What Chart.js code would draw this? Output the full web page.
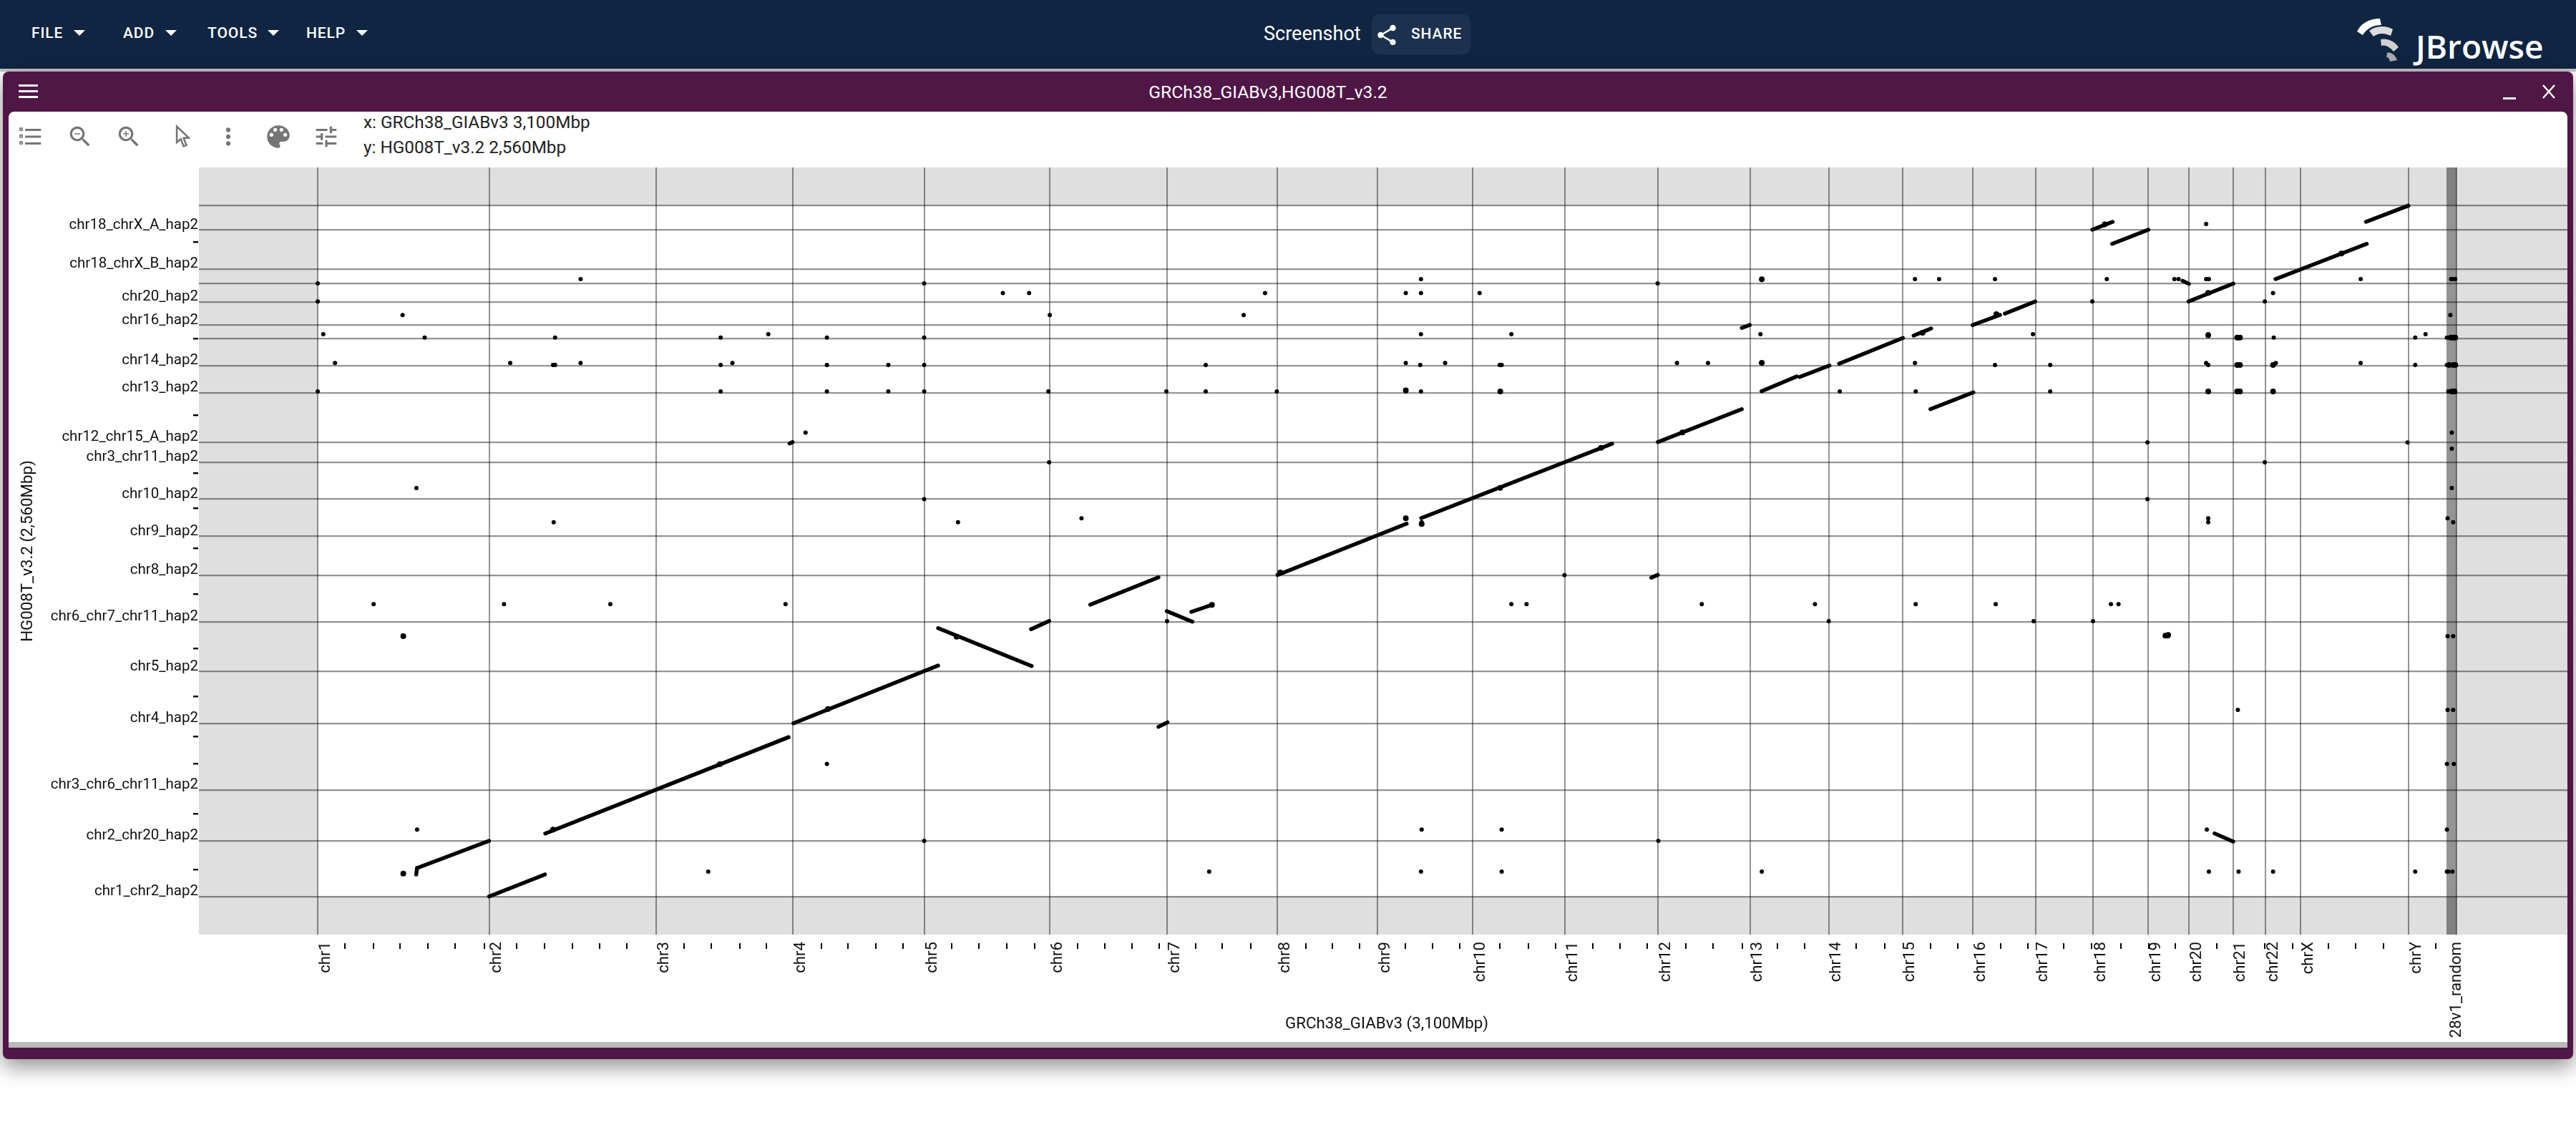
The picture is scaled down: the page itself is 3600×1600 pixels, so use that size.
<!DOCTYPE html>
<html>
<head>
<meta charset="utf-8">
<title>JBrowse dotplot</title>
<script src="https://cdn.jsdelivr.net/npm/chart.js@4/dist/chart.umd.min.js"></script>
<style>
html, body { margin: 0; padding: 0; background: #fff; }
body { width: 3600px; height: 1600px; position: relative; overflow: hidden; font-family: Roboto, sans-serif; }
.abs { position: absolute; white-space: nowrap; }
#topbar { left: 0; top: 0; width: 3600px; height: 96px; background: #0f2542; }
#topline { left: 0; top: 96px; width: 3600px; height: 4px; background: #c4c4c4; }
#panel { left: 4px; top: 100px; width: 3592px; height: 1380px; background: #501646; border-radius: 8px; box-shadow: 0 10px 30px rgba(0,0,0,0.45); }
#inner { left: 12px; top: 156px; width: 3576px; height: 1300px; background: #fff; border-radius: 8px 8px 0 0; }
#strip { left: 12px; top: 1456px; width: 3576px; height: 8px; background: #b9b9b9; }
#chartWrap { left: 0; top: 0; width: 3588px; height: 1450px; overflow: hidden; }
.menu { top: 34px; color: #fff; font-size: 21px; font-weight: 500; letter-spacing: 0.9px; line-height: 24px; }
.tri { top: 42px; width: 0; height: 0; border-left: 8px solid transparent; border-right: 8px solid transparent; border-top: 8px solid #fff; }
.info { left: 508px; font-size: 24.3px; color: #222; line-height: 28px; }
svg.icon { position: absolute; fill: #757575; }
</style>
</head>
<body>
<div class="abs" id="topbar"></div>
<div class="abs" id="topline"></div>
<div class="abs" id="panel"></div>
<div class="abs" id="inner"></div>
<div class="abs" id="strip"></div>

<div class="abs menu" style="left:44px">FILE</div><div class="abs tri" style="left:103px"></div>
<div class="abs menu" style="left:172px">ADD</div><div class="abs tri" style="left:231px"></div>
<div class="abs menu" style="left:290px">TOOLS</div><div class="abs tri" style="left:374px"></div>
<div class="abs menu" style="left:428px">HELP</div><div class="abs tri" style="left:498px"></div>

<div class="abs" style="left:1766px;top:31px;color:#fff;font-size:27px;line-height:32px">Screenshot</div>
<div class="abs" style="left:1917px;top:20px;width:138px;height:56px;border-radius:10px;background:#1c3150"></div>
<svg class="icon" style="left:1921px;top:32px;fill:#fff" width="34" height="34" viewBox="0 0 24 24"><path d="M18 16.08c-.76 0-1.44.3-1.96.77L8.91 12.7c.05-.23.09-.46.09-.7s-.04-.47-.09-.7l7.05-4.11c.54.5 1.25.81 2.04.81 1.66 0 3-1.34 3-3s-1.34-3-3-3-3 1.34-3 3c0 .24.04.47.09.7L8.04 9.81C7.5 9.31 6.79 9 6 9c-1.66 0-3 1.34-3 3s1.34 3 3 3c.79 0 1.5-.31 2.04-.81l7.12 4.16c-.05.21-.08.43-.08.65 0 1.61 1.31 2.92 2.92 2.92s2.92-1.31 2.92-2.92-1.31-2.92-2.92-2.92z"/></svg>
<div class="abs menu" style="left:1972px;top:35px">SHARE</div>

<svg class="abs" style="left:3290px;top:24px" width="72" height="64" viewBox="0 0 72 64">
<path d="M4 20 C10 8 22 2 36 2 L38 11 C28 11 18 15 12 25 Z" fill="#fff"/>
<path d="M21 19 C30 12 44 11 54 17 L51 26 C42 22 34 22 27 27 Z" fill="#dcdcdc"/>
<path d="M37 31 C46 29 56 33 62 42 L55 48 C50 42 44 38 38 40 Z" fill="#cfcfcf"/>
<path d="M46 50 C52 48 58 54 60 60 L50 62 C49 58 48 56 45 56 Z" fill="#a9a9a9"/>
</svg>
<div class="abs" style="left:3376px;top:36px;color:#fff;font-family:'Open Sans';font-weight:600;font-size:46px;line-height:56px">JBrowse</div>

<svg class="abs" style="left:26px;top:118px" width="27" height="19"><rect width="27" height="3" y="0" fill="#fff"/><rect width="27" height="3" y="8" fill="#fff"/><rect width="27" height="3" y="16" fill="#fff"/></svg>
<div class="abs" style="left:0;width:3544px;text-align:center;top:116px;color:#fff;font-size:24.6px;line-height:26px">GRCh38_GIABv3,HG008T_v3.2</div>
<div class="abs" style="left:3498px;top:136px;width:18px;height:3px;background:#fff"></div>
<svg class="abs" style="left:3552px;top:118px" width="20" height="20"><path d="M2 1 L18 19 M18 1 L2 19" stroke="#fff" stroke-width="2.4"/></svg>

<svg class="icon" style="left:24px;top:172px" width="38" height="38" viewBox="0 0 24 24"><path d="M7 5h14v2H7zM7 11h14v2H7zM7 17h14v2H7z"/><path d="M2.5 4.5h2v2h-2zM2.5 10.5h2v2h-2zM2.5 16.5h2v2h-2z" fill="none" stroke="#757575" stroke-width="1"/></svg>
<svg class="icon" style="left:93px;top:172px" width="38" height="38" viewBox="0 0 24 24"><path d="M15.5 14h-.79l-.28-.27C15.41 12.59 16 11.11 16 9.5 16 5.91 13.09 3 9.5 3S3 5.91 3 9.5 5.91 16 9.5 16c1.61 0 3.09-.59 4.23-1.57l.27.28v.79l5 4.99L20.49 19l-4.99-5zm-6 0C7.01 14 5 11.99 5 9.5S7.01 5 9.5 5 14 7.01 14 9.5 11.99 14 9.5 14zM7 9h5v1H7z"/></svg>
<svg class="icon" style="left:161px;top:172px" width="38" height="38" viewBox="0 0 24 24"><path d="M15.5 14h-.79l-.28-.27C15.41 12.59 16 11.11 16 9.5 16 5.91 13.09 3 9.5 3S3 5.91 3 9.5 5.91 16 9.5 16c1.61 0 3.09-.59 4.23-1.57l.27.28v.79l5 4.99L20.49 19l-4.99-5zm-6 0C7.01 14 5 11.99 5 9.5S7.01 5 9.5 5 14 7.01 14 9.5 11.99 14 9.5 14z"/><path d="M12 10h-2v2H9v-2H7V9h2V7h1v2h2v1z"/></svg>
<svg class="icon" style="left:236px;top:172px" width="38" height="38" viewBox="0 0 24 24"><path d="M7 3 L7 17 L10.5 14 L13 20.5 L15.5 19.5 L13 13.2 L17.5 13 Z" fill="none" stroke="#757575" stroke-width="1.6"/></svg>
<svg class="icon" style="left:300px;top:172px" width="38" height="38" viewBox="0 0 24 24"><path d="M12 8c1.1 0 2-.9 2-2s-.9-2-2-2-2 .9-2 2 .9 2 2 2zm0 2c-1.1 0-2 .9-2 2s.9 2 2 2 2-.9 2-2-.9-2-2-2zm0 6c-1.1 0-2 .9-2 2s.9 2 2 2 2-.9 2-2-.9-2-2-2z"/></svg>
<svg class="icon" style="left:368px;top:170px" width="42" height="42" viewBox="0 0 24 24"><path d="M12 3c-4.97 0-9 4.03-9 9s4.03 9 9 9c.83 0 1.5-.67 1.5-1.5 0-.39-.15-.74-.39-1.01-.23-.26-.38-.61-.38-.99 0-.83.67-1.5 1.5-1.5H16c2.76 0 5-2.24 5-5 0-4.42-4.03-8-9-8zm-5.5 9c-.83 0-1.5-.67-1.5-1.5S5.67 9 6.5 9 8 9.67 8 10.5 7.33 12 6.5 12zm3-4C8.67 8 8 7.33 8 6.5S8.67 5 9.5 5s1.5.67 1.5 1.5S10.33 8 9.5 8zm5 0c-.83 0-1.5-.67-1.5-1.5S13.67 5 14.5 5s1.5.67 1.5 1.5S15.33 8 14.5 8zm3 4c-.83 0-1.5-.67-1.5-1.5S16.67 9 17.5 9s1.5.67 1.5 1.5-.67 1.5-1.5 1.5z"/></svg>
<svg class="icon" style="left:437px;top:172px" width="38" height="38" viewBox="0 0 24 24"><path d="M3 17v2h6v-2H3zM3 5v2h10V5H3zm10 16v-2h8v-2h-8v-2h-2v6h2zM7 9v2H3v2h4v2h2V9H7zm14 4v-2H11v2h10zm-6-4h2V7h4V5h-4V3h-2v6z"/></svg>
<div class="abs info" style="top:157px">x: GRCh38_GIABv3 3,100Mbp</div>
<div class="abs info" style="top:192px">y: HG008T_v3.2 2,560Mbp</div>

<div class="abs" id="chartWrap"><canvas id="Chart" width="3602" height="1450"></canvas></div>

<script>
// chromosome starts on the reference axis, Mbp
var xChrStarts = [0, 248.5, 491, 688.6, 879.5, 1061, 1231, 1391, 1536, 1674, 1808, 1942.5, 2076, 2190, 2297, 2399, 2490, 2573, 2653, 2712, 2776, 2823, 2874, 3030.5, 3088.7];
var xChrNames = ["chr1", "chr2", "chr3", "chr4", "chr5", "chr6", "chr7", "chr8", "chr9", "chr10", "chr11", "chr12", "chr13", "chr14", "chr15", "chr16", "chr17", "chr18", "chr19", "chr20", "chr21", "chr22", "chrX", "chrY", "chrUn_KI270728v1_random"];
// small unplaced contigs at the end of the reference, no labels drawn for them
var xExtraLines = [3086.5, 3091, 3093, 3095, 3097, 3099, 3100];
var xMinorTicks = [39.4, 80.9, 119.3, 159.8, 199.2, 241.2, 287.9, 329.1, 369.1, 408.5, 447.9, 530.9, 570.3, 611.8, 650.2, 729.7, 768.6, 808.7, 848.4, 919, 958.4, 999, 1039.5, 1101, 1141, 1180, 1219.6, 1272, 1310.4, 1352.4, 1431.7, 1470.9, 1509.9, 1576.4, 1616, 1655, 1713.4, 1754.5, 1794, 1848, 1887, 1927, 1982.7, 2022, 2064.4, 2115.7, 2154.8, 2230.1, 2271.2, 2338, 2377, 2439.6, 2478.6, 2530.9, 2570.6, 2613.4, 2653.8, 2692.7, 2752.3, 2822, 2862, 2914.3, 2953.3, 2993.8, 3070];

// contig starts on the assembly axis, Mbp. Empty names were hidden by JBrowse
var yContigStarts = [0, 206, 395, 641.5, 833, 1017, 1190, 1334, 1472, 1608, 1682, 1865, 1966, 2067, 2116, 2203, 2270, 2324, 2468.5, 2560];
var yContigNames = ["chr1_chr2_hap2", "chr2_chr20_hap2", "chr3_chr6_chr11_hap2", "chr4_hap2", "chr5_hap2", "chr6_chr7_chr11_hap2", "chr8_hap2", "chr9_hap2", "chr10_hap2", "chr3_chr11_hap2", "chr12_chr15_A_hap2", "chr13_hap2", "chr14_hap2", "", "chr16_hap2", "chr20_hap2", "", "chr18_chrX_B_hap2", "chr18_chrX_A_hap2", ""];
var yMinorTicks = [100, 306, 492, 593, 741, 919, 1121, 1289, 1439, 1569, 1783, 2067, 2423.5];

// alignments: start and end on both axes, Mbp
var segX = [[248.3, 329.3], [142.7, 144], [144, 248.3], [329.8, 682.4], [683.8, 688.3], [689.4, 899.2], [899.2, 1034.8], [1033.8, 1060.2], [1119.6, 1218.5], [1218.5, 1231.7], [1230.6, 1267.7], [1266.1, 1296.8], [1391, 1578.3], [1599.4, 1876.1], [1932.9, 1942.3], [1942.3, 2064], [2064, 2075.7], [2092.6, 2143.7], [2147.9, 2191.1], [2205, 2297.5], [2313, 2338.4], [2337.4, 2399.6], [2398.6, 2438.3], [2445.3, 2489.4], [2572, 2601.4], [2600.8, 2653.3], [2702.8, 2712.1], [2711.5, 2776.4], [2749.3, 2776.3], [2837.6, 2969.7], [2968.6, 3030]];
var segY = [[0, 81.6], [81, 105], [105, 206], [233, 590], [1678, 1683.3], [641.5, 855.5], [994, 853.6], [990, 1020.6], [1080.8, 1182.3], [628.3, 645.2], [1056.9, 1018], [1054.3, 1080.8], [1191, 1381], [1401.6, 1677.3], [1180.7, 1191.3], [1683.3, 1805.3], [2105.8, 2117.2], [1871.5, 1926.4], [1924.6, 1967], [1973.3, 2068.8], [2077.6, 2104], [1805.3, 1867.3], [2116.5, 2154.4], [2158.9, 2204], [2469.8, 2499], [2417.6, 2469.8], [2280.8, 2269.2], [2204, 2270.3], [233.5, 203.3], [2287, 2417.6], [2499, 2559]];

// short hits, one x list per row of y
var dotRowY = [2491, 2287, 2271, 2235, 2204, 2154, 2083, 2070, 1976, 1969, 1871, 1718, 1682, 1659, 1608, 1513, 1472, 1401, 1386, 1190, 1083, 1020, 964, 691, 491, 248, 206, 92];
var dotRowX = [
    [2737],
    [381, 1599, 2093, 2315, 2350, 2431, 2593, 2691, 2697, 2737, 2741, 2961, 3092, 3094, 3098],
    [0, 879, 1942],
    [993, 1031, 1373, 1577, 1599, 1684, 2834],
    [0, 2572, 2822],
    [123, 1061, 1342, 3091],
    [8, 653, 1599, 1730, 2091, 2486, 2740, 3055],
    [155, 344, 584, 738, 879, 2782, 2786, 2835, 3040, 3086, 3089, 3092, 3095, 3098],
    [25, 279, 381, 601, 1577, 1634, 1970, 2015, 2092, 2315, 2737, 2838, 2961],
    [341, 344, 584, 738, 827, 879, 1287, 1598, 1713, 1716, 2431, 2511, 2740, 2782, 2786, 2834, 3040, 3086, 3089, 3091, 3093, 3095, 3097, 3099],
    [0, 584, 738, 827, 879, 1059, 1230, 1287, 1390, 1577, 1599, 1714, 2206, 2316, 2511, 2740, 2782, 2786, 2834, 3088, 3093, 3095, 3098],
    [707, 3093],
    [2652, 3029],
    [3093],
    [1060, 2822],
    [143, 3093],
    [879, 2652],
    [1107, 1577, 2740, 3087],
    [342, 928, 1600, 2740, 3095],
    [1807],
    [81, 270, 424, 678, 1730, 1752, 2006, 2170, 2316, 2432, 2599, 2610],
    [1231, 2190, 2487, 2573],
    [124, 2678, 2682, 3087, 3095],
    [2783, 3087, 3095],
    [738, 3086, 3096],
    [144, 1600, 1716, 2738, 3086],
    [879, 1943],
    [566, 1292, 1599, 1716, 2093, 2741, 2784, 2834, 3040, 3086, 3088, 3094]
];
// thicker hits and the small bumps sitting on the long alignments
var bigDotX = [124, 124, 2093, 1577, 1600, 1714, 1577, 2093, 2740, 2678, 2682, 926, 739.5, 1395, 1860, 1713.7, 1978, 2433, 2326, 2590, 2933, 2740, 341, 583, 1296, 3089, 3095, 3098, 3092, 3095, 3098, 3093, 3097, 2782, 2786, 2834, 2782, 2786, 2782, 2786, 2834, 2740];
var bigDotY = [964, 85, 2286, 1401, 1380, 1871, 1875, 1977, 2079, 966, 969, 962, 694.5, 1200, 1662, 1513.6, 1719, 2157, 2088, 2490, 2382, 2236, 248, 490, 1080, 1969, 1969, 1969, 2070, 2070, 2070, 1871, 1871, 1969, 1969, 1969, 2070, 2070, 1871, 1871, 1871, 1871];

var labelFont = { family: "Roboto", size: 20.5 };
var titleFont = { family: "Roboto", size: 22.3 };
var xLabelFont = { family: "Roboto", size: 22.2 };
var gridColor = "rgba(0,0,0,0.42)";

function buildDatasets() {
    var sets = [];
    for (var i = 0; i < segX.length; i++) {
        sets.push({
            showLine: true,
            data: [{ x: segX[i][0], y: segY[i][0] }, { x: segX[i][1], y: segY[i][1] }],
            borderColor: "#000",
            borderWidth: 5.4,
            borderCapStyle: "round",
            pointRadius: 0
        });
    }
    var dots = [];
    for (var r = 0; r < dotRowY.length; r++) {
        for (var k = 0; k < dotRowX[r].length; k++) {
            dots.push({ x: dotRowX[r][k], y: dotRowY[r] });
        }
    }
    sets.push({ data: dots, backgroundColor: "#000", pointRadius: 3, pointBorderWidth: 0 });
    var bigDots = [];
    for (var b = 0; b < bigDotX.length; b++) {
        bigDots.push({ x: bigDotX[b], y: bigDotY[b] });
    }
    sets.push({ data: bigDots, backgroundColor: "#000", pointRadius: 4, pointBorderWidth: 0 });
    return sets;
}

// white field of the dotplot inside the gray chart area
var fieldPlugin = {
    id: "field",
    beforeDraw: function (chart) {
        var ctx = chart.ctx, a = chart.chartArea, x = chart.scales.x, y = chart.scales.y;
        ctx.save();
        ctx.fillStyle = "#dfdfdf";
        ctx.fillRect(a.left, a.top, a.width, a.height);
        ctx.fillStyle = "#fff";
        var x0 = x.getPixelForValue(0), x1 = x.getPixelForValue(3100);
        var y0 = y.getPixelForValue(0), y1 = y.getPixelForValue(2560);
        ctx.fillRect(x0, y1, x1 - x0, y0 - y1);
        ctx.restore();
    }
};

// short marks outside the area, they sit apart from the axis in JBrowse
var minorTickPlugin = {
    id: "minorTicks",
    afterDraw: function (chart) {
        var ctx = chart.ctx, a = chart.chartArea;
        ctx.save();
        ctx.fillStyle = "#000";
        xMinorTicks.forEach(function (v) {
            ctx.fillRect(Math.round(chart.scales.x.getPixelForValue(v)) - 1, a.bottom + 12, 2, 8);
        });
        yMinorTicks.forEach(function (v) {
            ctx.fillRect(a.left - 8, Math.round(chart.scales.y.getPixelForValue(v)) - 1, 7, 2.4);
        });
        ctx.restore();
    }
};

var myChart = new Chart(document.getElementById("Chart"), {
    type: "scatter",
    data: { datasets: buildDatasets() },
    plugins: [fieldPlugin, minorTickPlugin],
    options: {
        responsive: false,
        devicePixelRatio: 1,
        animation: false,
        events: [],
        layout: { padding: { top: 234, left: 0, right: 0, bottom: 0 } },
        plugins: { legend: { display: false }, tooltip: { enabled: false } },
        scales: {
            x: {
                type: "linear",
                min: -172.2,
                max: 3271,
                afterBuildTicks: function (scale) {
                    scale.ticks = xChrStarts.concat(xExtraLines).map(function (v) { return { value: v }; });
                },
                afterFit: function (scale) { scale.height = 144; },
                grid: { color: gridColor, lineWidth: 2, drawTicks: false },
                border: { display: false },
                ticks: {
                    autoSkip: false,
                    minRotation: 90,
                    maxRotation: 90,
                    padding: 10,
                    labelOffset: 11,
                    color: "#111",
                    font: xLabelFont,
                    callback: function (v) {
                        var i = xChrStarts.indexOf(v);
                        return i < 0 ? "" : xChrNames[i];
                    }
                },
                title: { display: true, text: "GRCh38_GIABv3 (3,100Mbp)", color: "#111", font: titleFont, padding: { top: 5, bottom: 5 } }
            },
            y: {
                type: "linear",
                min: -141.3,
                max: 2700.5,
                afterBuildTicks: function (scale) {
                    scale.ticks = yContigStarts.map(function (v) { return { value: v }; });
                },
                afterFit: function (scale) { scale.width = 278; },
                grid: { color: gridColor, lineWidth: 2.3, drawTicks: false },
                border: { display: false },
                ticks: {
                    autoSkip: false,
                    padding: 1,
                    labelOffset: -7,
                    color: "#111",
                    font: labelFont,
                    callback: function (v) {
                        return yContigNames[yContigStarts.indexOf(v)];
                    }
                },
                title: { display: true, text: "HG008T_v3.2 (2,560Mbp)", color: "#111", font: titleFont, padding: { top: 26, bottom: 26 } }
            }
        }
    }
});
</script>
</body>
</html>
